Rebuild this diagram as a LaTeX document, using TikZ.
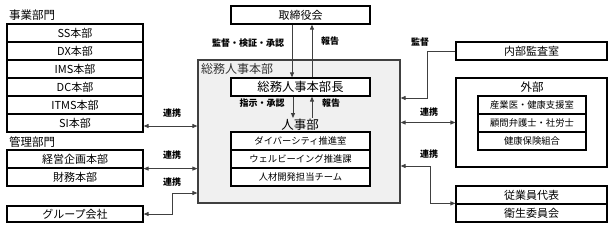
\documentclass[tikz,border=0pt]{standalone}
\usepackage{fontspec}
\setmainfont{Noto Sans CJK JP}
\usepackage{tikz}
\usetikzlibrary{positioning,arrows.meta,calc}

\begin{document}
\begin{tikzpicture}[x=1pt, y=-1pt,
    box/.style={draw, line width=1.2pt, fill=white, inner sep=0pt, font=\fontsize{11}{12}\selectfont},
    row/.style={box, minimum width=136pt, minimum height=18pt},
    wide/.style={box, minimum width=139pt, minimum height=18pt},
    ext/.style={box, minimum width=151pt, minimum height=18pt},
    sub/.style={box, minimum height=18pt, font=\fontsize{9.3}{10}\selectfont},
    grp/.style={anchor=west, inner sep=0pt, font=\fontsize{11.5}{12}\selectfont},
    lbl/.style={inner sep=0pt, font=\fontsize{9}{10}\selectfont\bfseries},
    arr/.style={line width=0.9pt, black!75, -{Triangle[length=5pt,width=4pt]}},
    both/.style={line width=0.9pt, black!75, {Triangle[length=5pt,width=4pt]}-{Triangle[length=5pt,width=4pt]}},
]
\useasboundingbox (0,0) rectangle (613,228);

% left side
\node[grp] (jigyo) at (9,15) {事業部門};
\node[row] (ss) at (75,33) {SS本部};
\node[row] (dx) at (75,51) {DX本部};
\node[row] (ims) at (75,69) {IMS本部};
\node[row] (dc) at (75,87) {DC本部};
\node[row] (itms) at (75,105) {ITMS本部};
\node[row] (si) at (75,123) {SI本部};
\node[grp] (kanri) at (9,142) {管理部門};
\node[row] (keiei) at (75,159) {経営企画本部};
\node[row] (zaimu) at (75,177) {財務本部};
\node[row, minimum height=16pt] (group) at (75,214) {グループ会社};

% center
\node[wide] (board) at (300.5,15) {取締役会};
\node[draw=black!75, line width=1.2pt, fill=black!6, minimum width=202pt, minimum height=143pt] (soumu) at (299,131.5) {};
\node[grp, black!80, font=\fontsize{12}{13}\selectfont] (soumulbl) at (201,69) {総務人事本部};
\node[wide, font=\fontsize{12.3}{13}\selectfont] (head) at (300.5,87) {総務人事本部長};
\node[inner sep=1pt, font=\fontsize{12.5}{14}\selectfont] (jinji) at (300,125) {人事部};
\node[sub, minimum width=139pt] (div) at (300.5,141) {ダイバーシティ推進室};
\node[sub, minimum width=139pt] (well) at (300.5,159) {ウェルビーイング推進課};
\node[sub, minimum width=139pt] (hrd) at (300.5,177) {人材開発担当チーム};

% right side
\node[ext] (audit) at (531.5,51) {内部監査室};
\node[ext, minimum height=89pt] (gaibu) at (531.5,122.5) {};
\node[inner sep=0pt, font=\fontsize{11.5}{12}\selectfont] (gaibulbl) at (532,87) {外部};
\node[sub, minimum width=108pt] (doctor) at (532,105) {産業医・健康支援室};
\node[sub, minimum width=108pt] (lawyer) at (532,123) {顧問弁護士・社労士};
\node[sub, minimum width=108pt] (kenpo) at (532,141) {健康保険組合};
\node[ext] (rep) at (531.5,195) {従業員代表};
\node[ext] (eisei) at (531.5,213) {衛生委員会};

\coordinate (gin) at (0,193);
\coordinate (ain) at (0,98);
\coordinate (rin) at (0,166);

% connectors
\draw[arr] ([xshift=-8.5pt]board.south) -- ([xshift=-8.5pt]head.north);
\draw[arr] ([xshift=11.5pt]head.north) -- ([xshift=11.5pt]board.south);
\draw[arr] ([xshift=-7.5pt]head.south) -- ([xshift=-7.5pt]head.south |- jinji.north);
\draw[arr] ([xshift=11.5pt]head.south |- jinji.north) -- ([xshift=11.5pt]head.south);
\draw[both] ([yshift=-3pt]si.east) -- ([yshift=-3pt]si.east -| soumu.west);
\draw[both] (keiei.south east) -- (keiei.south east -| soumu.west);
\draw[both] (group.east) -- ++(29,0) |- (soumu.west |- gin);
\draw[arr] (audit.west) -- ++(-28,0) |- (soumu.east |- ain);
\draw[both] (soumu.east |- gaibu.west) -- (gaibu.west);
\draw[both] (eisei.north west) -- ++(-25,0) |- (soumu.east |- rin);

% labels
\node[lbl] (l1) at (248,43) {監督・検証・承認};
\node[lbl] (l2) at (330,41) {報告};
\node[lbl] (l3) at (262,103) {指示・承認};
\node[lbl] (l4) at (331,103) {報告};
\node[lbl] (l5) at (172,113) {連携};
\node[lbl] (l6) at (172,155) {連携};
\node[lbl] (l7) at (172,182) {連携};
\node[lbl] (l8) at (420,42) {監督};
\node[lbl] (l9) at (429,112) {連携};
\node[lbl] (l10) at (429,154) {連携};
\end{tikzpicture}
\end{document}
